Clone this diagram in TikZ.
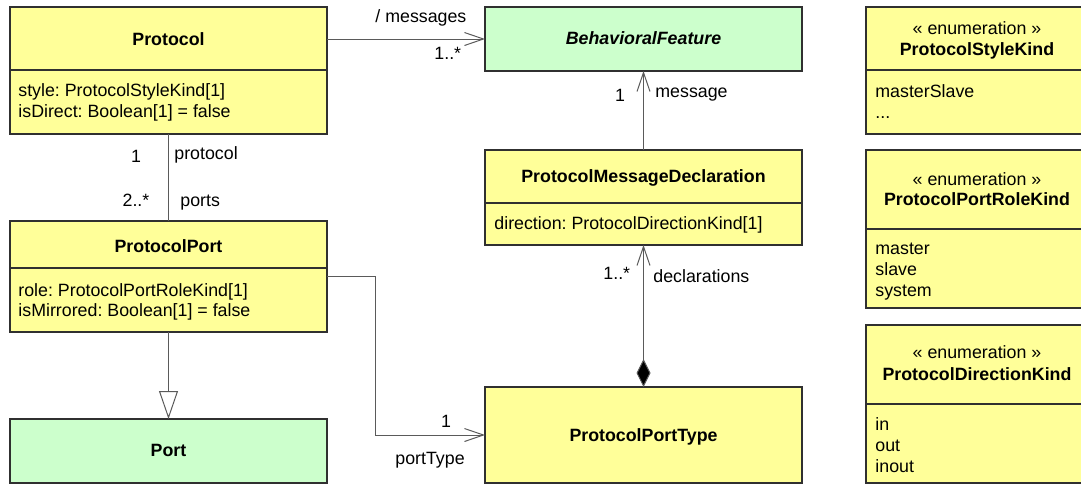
\documentclass[tikz,border=0pt]{standalone}
\usepackage{fontspec}
\setmainfont{Liberation Sans}
\usetikzlibrary{arrows.meta}
\definecolor{clsyellow}{HTML}{FFFF99}
\definecolor{clsgreen}{HTML}{CCFFCC}
\definecolor{edgegray}{HTML}{5A5A5A}
\definecolor{boxline}{HTML}{303030}
\frenchspacing
\begin{document}
\begin{tikzpicture}[x=0.5pt,y=-0.5pt,
  font=\fontsize{8.9}{10.5}\selectfont,
  box/.style={draw=boxline, line width=0.7pt, inner sep=0pt, outer sep=0pt, anchor=north west},
  ybox/.style={box, fill=clsyellow},
  gbox/.style={box, fill=clsgreen},
  divider/.style={draw=boxline, line width=0.7pt},
  title/.style={anchor=base, inner sep=0pt, font=\fontsize{8.9}{10.5}\selectfont\bfseries},
  txt/.style={anchor=base west, inner sep=0pt},
  ctxt/.style={anchor=base, inner sep=0pt},
  conn/.style={draw=edgegray, line width=0.5pt},
  nav/.style={conn, -{Straight Barb[length=9.5pt,width=6.5pt]}},
  gen/.style={conn, -{Triangle[open,length=14pt,width=9.5pt,fill=white]}},
  comp/.style={conn, {Diamond[length=14pt,width=7pt,fill=black]}-{Straight Barb[length=9.5pt,width=6.5pt]}}
]
\useasboundingbox (0,0) rectangle (1081,484);

% ---- Protocol
\node[ybox, minimum width=158.5pt, minimum height=63.5pt] (protocol) at (10,7) {};
\draw[divider] (10,70) -- (327,70);
\node[title] (protocolT) at (168.5,45) {Protocol};
\node[txt] (protocolA1) at (18,96) {style: ProtocolStyleKind[1]};
\node[txt] (protocolA2) at (18,117) {isDirect: Boolean[1] = false};

% ---- BehavioralFeature
\node[gbox, minimum width=158.5pt, minimum height=32pt] (bf) at (485,7) {};
\node[title, font=\fontsize{8.9}{10.5}\selectfont\bfseries\itshape] (bfT) at (643.5,44) {BehavioralFeature};

% ---- ProtocolMessageDeclaration
\node[ybox, minimum width=158.5pt, minimum height=47.5pt] (pmd) at (485,150) {};
\draw[divider] (485,203) -- (802,203);
\node[title] (pmdT) at (643.5,182) {ProtocolMessageDeclaration};
\node[txt] (pmdA1) at (494,229) {direction: ProtocolDirectionKind[1]};

% ---- ProtocolPort
\node[ybox, minimum width=158.5pt, minimum height=55.5pt] (pport) at (10,221) {};
\draw[divider] (10,268) -- (327,268);
\node[title] (pportT) at (168.5,252) {ProtocolPort};
\node[txt] (pportA1) at (18,296) {role: ProtocolPortRoleKind[1]};
\node[txt] (pportA2) at (18,316) {isMirrored: Boolean[1] = false};

% ---- Port
\node[gbox, minimum width=158.5pt, minimum height=32pt] (port) at (10,419) {};
\node[title] (portT) at (168.5,456) {Port};

% ---- ProtocolPortType
\node[ybox, minimum width=158.5pt, minimum height=48pt] (ppt) at (485,387) {};
\node[title] (pptT) at (643.5,441) {ProtocolPortType};

% ---- Enumerations
\node[ybox, minimum width=111pt, minimum height=63.5pt] (psk) at (866,7) {};
\draw[divider] (866,70) -- (1088,70);
\node[ctxt] (pskS) at (977,34) {« enumeration »};
\node[title] (pskT) at (977,55) {ProtocolStyleKind};
\node[txt] (pskL1) at (875,97) {masterSlave};
\node[txt] (pskL2) at (875,118) {...};

\node[ybox, minimum width=111pt, minimum height=79pt] (pprk) at (866,150) {};
\draw[divider] (866,229) -- (1088,229);
\node[ctxt] (pprkS) at (977,185) {« enumeration »};
\node[title] (pprkT) at (977,205) {ProtocolPortRoleKind};
\node[txt] (pprkL1) at (875,254) {master};
\node[txt] (pprkL2) at (875,275) {slave};
\node[txt] (pprkL3) at (875,296) {system};

\node[ybox, minimum width=111pt, minimum height=79pt] (pdk) at (866,325) {};
\draw[divider] (866,404) -- (1088,404);
\node[ctxt] (pdkS) at (977,358) {« enumeration »};
\node[title] (pdkT) at (977,380) {ProtocolDirectionKind};
\node[txt] (pdkL1) at (875,430) {in};
\node[txt] (pdkL2) at (875,451) {out};
\node[txt] (pdkL3) at (875,472) {inout};

% ---- Connectors
\draw[conn] (protocol.south) -- (pport.north);
\node[ctxt] (m1) at (136,162) {1};
\node[txt] (r1) at (174,159) {protocol};
\node[ctxt] (m2) at (136,206) {2..*};
\node[txt] (r2) at (180,206) {ports};

\draw[nav] (protocol.east |- bf.west) -- (bf.west);
\node[txt] (r3) at (375,22) {/ messages};
\node[txt] (m3) at (434,59) {1..*};

\draw[nav] (pmd.north) -- (bf.south);
\node[ctxt] (m4) at (620,101) {1};
\node[txt] (r4) at (655,97) {message};

\draw[comp] (ppt.north) -- (pmd.south);
\node[txt] (m5) at (603,279) {1..*};
\node[txt] (r5) at (653,282) {declarations};

\draw[nav] (pport.east) -- ++(48,0) |- (ppt.west);
\node[ctxt] (m6) at (446,427) {1};
\node[txt] (r6) at (395,464) {portType};

\draw[gen] (pport.south) -- (port.north);
\end{tikzpicture}
\end{document}
